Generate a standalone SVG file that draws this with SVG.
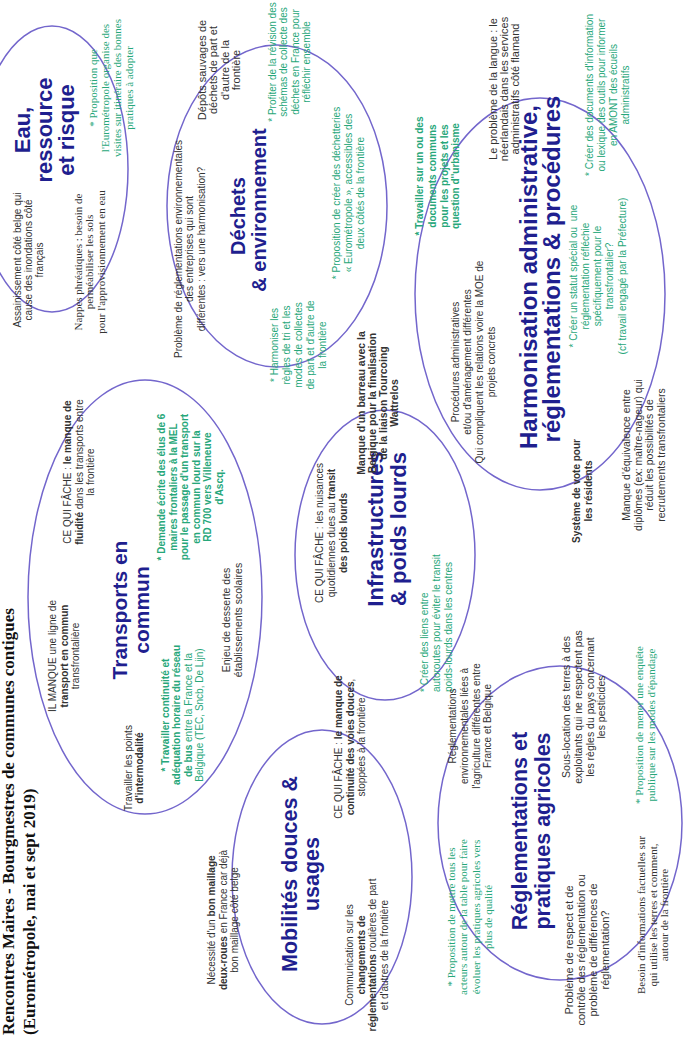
<svg xmlns="http://www.w3.org/2000/svg" width="685" height="1039" viewBox="0 0 685 1039">
<style>
.e{fill:none;stroke:#7366cc;stroke-width:1.5}
.t{font-family:"Liberation Sans",Arial,sans-serif;font-size:10px;fill:#333;text-anchor:middle}
.s{font-family:"Liberation Serif","Times New Roman",serif;font-size:11px;fill:#333;text-anchor:middle}
.g{fill:#27a77a}
.b{font-weight:bold}
.h{font-family:"Liberation Sans",Arial,sans-serif;font-weight:bold;fill:#1f1f8f;text-anchor:middle}
.ttl{font-family:"Liberation Serif","Times New Roman",serif;font-weight:bold;font-size:17px;fill:#111}
</style>
<rect width="685" height="1039" fill="#fff"/>
<g transform="translate(0,1039) rotate(-90)">
<g id="title">
<text class="ttl" x="4" y="14">Rencontres Maires - Bourgmestres de communes contigues</text>
<text class="ttl" x="4" y="35">(Eurométropole, mai et sept 2019)</text>
</g>
<g id="connectors"></g>
<g id="eau">
<ellipse class="e" cx="870" cy="52" rx="143" ry="76"/>
<text class="h" style="font-size:22px"><tspan x="909" y="29.5">Eau,</tspan><tspan x="909" y="51.5">ressource</tspan><tspan x="909" y="73.5">et risque</tspan></text>
<text class="t"><tspan x="779" y="20.5">Assainissement côté belge qui</tspan><tspan x="779" y="31.8">cause des inondations côté</tspan><tspan x="779" y="43">français</tspan></text>
<text class="s"><tspan x="777" y="81.5">Nappes phréatiques : besoin de</tspan><tspan x="777" y="93">perméabiliser les sols</tspan><tspan x="777" y="104.5">pour l'approvisionnement en eau</tspan></text>
<text class="s g"><tspan x="951" y="96.5">* Proposition que</tspan><tspan x="951" y="108.5">l'Eurométropole organise des</tspan><tspan x="951" y="121">visites sur itinéraire des bonnes</tspan><tspan x="951" y="133">pratiques à adopter</tspan></text>
</g>
<g id="dechets">
<ellipse class="e" cx="833" cy="277" rx="161" ry="110"/>
<text class="h" style="font-size:20px"><tspan x="823" y="245">Déchets</tspan><tspan x="829" y="266">&amp; environnement</tspan></text>
<text class="t" style="font-size:11px"><tspan x="969" y="205.5">Dépôts sauvages de</tspan><tspan x="969" y="217">déchets de part et</tspan><tspan x="969" y="228.5">d'autre de la</tspan><tspan x="969" y="240">frontière</tspan></text>
<text class="t"><tspan x="790" y="181.5">Problème de réglementations environnementales</tspan><tspan x="790" y="193">des entreprises qui sont</tspan><tspan x="790" y="204.5">différentes : vers une harmonisation?</tspan></text>
<text class="t g"><tspan x="977" y="275.5">* Profiter de la révision des</tspan><tspan x="977" y="287">schémas de collecte des</tspan><tspan x="977" y="298.5">déchets en France pour</tspan><tspan x="977" y="310">réfléchir ensemble</tspan></text>
<text class="t g"><tspan x="846" y="340">* Proposition de créer des déchetteries</tspan><tspan x="846" y="352">« Eurométropole », accessibles des</tspan><tspan x="846" y="363.5">deux côtés de la frontière</tspan></text>
<text class="t g"><tspan x="694" y="278">* Harmoniser les</tspan><tspan x="694" y="290">règles de tri et les</tspan><tspan x="694" y="302">modes de collectes</tspan><tspan x="694" y="314">de part et d'autre de</tspan><tspan x="694" y="326">la frontière</tspan></text>
</g>
<g id="harmonisation">
<ellipse class="e" cx="745" cy="540" rx="196" ry="125"/>
<text class="h" style="font-size:24px"><tspan x="762" y="537">Harmonisation administrative,</tspan><tspan x="770" y="560">réglementations &amp; procédures</tspan></text>
<text class="t g b"><tspan x="863" y="423">* Travailler sur un ou des</tspan><tspan x="863" y="435.5">documents communs</tspan><tspan x="863" y="447.5">pour les projets et les</tspan><tspan x="863" y="459">question d''urbanisme</tspan></text>
<text class="t"><tspan x="677" y="458.5">Procédures administratives</tspan><tspan x="677" y="470.5">et/ou d'aménagement différentes</tspan><tspan x="677" y="482.5">Qui compliquent les relations voire la MOE de</tspan><tspan x="677" y="494.5">projets concrets</tspan></text>
<text class="t" style="font-size:11px"><tspan x="950" y="497">Le problème de la langue : le</tspan><tspan x="950" y="508">néerlandais dans les services</tspan><tspan x="950" y="519">administratifs côté flamand</tspan></text>
<text class="t g"><tspan x="763" y="577">* Créer un statut spécial ou&#160; une</tspan><tspan x="763" y="589">réglementation réfléchie</tspan><tspan x="763" y="601">spécifiquement pour le</tspan><tspan x="763" y="613">transfrontalier?</tspan><tspan x="763" y="626">(cf travail engagé par la Préfecture)</tspan></text>
<text class="t g"><tspan x="944" y="593">* Créer des documents d'information</tspan><tspan x="944" y="605">ou lexique des outils pour informer</tspan><tspan x="944" y="617">en AMONT des écueils</tspan><tspan x="944" y="629">administratifs</tspan></text>
<text class="t b"><tspan x="548" y="580">Système de vote pour</tspan><tspan x="548" y="591.5">les résidents</tspan></text>
<text class="t" style="font-size:10.5px"><tspan x="584" y="630">Manque d'équivalence entre</tspan><tspan x="584" y="641.5">diplômes (ex: maître-nageur) qui</tspan><tspan x="584" y="653">réduit les possibilités de</tspan><tspan x="584" y="664.5">recrutements transfrontaliers</tspan></text>
</g>
<g id="transports">
<ellipse class="e" cx="442" cy="145" rx="217" ry="117"/>
<text class="h" style="font-size:21px"><tspan x="429" y="127">Transports en</tspan><tspan x="429" y="149">commun</tspan></text>
<text class="t"><tspan x="383" y="56">IL MANQUE une ligne de</tspan><tspan x="383" y="67.5" class="b">transport en commun</tspan><tspan x="383" y="79">transfrontalière</tspan></text>
<text class="t"><tspan x="567" y="71">CE QUI FÂCHE : <tspan class="b">le manque de</tspan></tspan><tspan x="567" y="82.5"><tspan class="b">fluidité</tspan> dans les transports entre</tspan><tspan x="567" y="94">la frontière</tspan></text>
<text class="t g b"><tspan x="552" y="165">* Demande écrite des élus de 6</tspan><tspan x="552" y="176.5">maires frontaliers à la MEL</tspan><tspan x="552" y="188">pour le passage d'un transport</tspan><tspan x="552" y="199.5">en commun lourd sur la</tspan><tspan x="552" y="211">RD 700 vers Villeneuve</tspan><tspan x="552" y="222.5">d'Ascq.</tspan></text>
<text class="t" style="font-size:10.5px"><tspan x="419" y="230">Enjeu de desserte des</tspan><tspan x="419" y="241.5">établissements scolaires</tspan></text>
<text class="t"><tspan x="271" y="131.5">Travailler les points</tspan><tspan x="271" y="143" class="b">d'intermodalité</tspan></text>
<text class="t g"><tspan x="324" y="168.5" class="b">* Travailler continuité et</tspan><tspan x="324" y="180" class="b">adéquation horaire du réseau</tspan><tspan x="324" y="191.5"><tspan class="b">de bus</tspan> entre la France et la</tspan><tspan x="324" y="203">Belgique (TEC, Sncb, De Lijn)</tspan></text>
</g>
<g id="infrastructures">
<ellipse class="e" cx="484" cy="385" rx="145" ry="90"/>
<text class="h" style="font-size:22px"><tspan x="510" y="383">Infrastructures</tspan><tspan x="510" y="406">&amp; poids lourds</tspan></text>
<text class="t"><tspan x="506" y="323">CE QUI FÂCHE : les nuisances</tspan><tspan x="506" y="335">quotidiennes dues au <tspan class="b">transit</tspan></tspan><tspan x="506" y="346.5" class="b">des poids lourds</tspan></text>
<text class="t b" style="font-size:10.5px"><tspan x="636" y="365">Manque d'un barreau avec la</tspan><tspan x="636" y="376">Belgique pour la finalisation</tspan><tspan x="636" y="387">de la liaison Tourcoing</tspan><tspan x="636" y="398">Wattrelos</tspan></text>
<text class="t g" style="text-anchor:start"><tspan x="347" y="428">* Créer des liens entre</tspan><tspan x="347" y="440">autoroutes pour éviter le transit</tspan><tspan x="347" y="451.5">poids-lourds dans les centres</tspan></text>
</g>
<g id="mobilites">
<ellipse class="e" cx="162" cy="322" rx="147" ry="90"/>
<text class="h" style="font-size:21.5px"><tspan x="165" y="297">Mobilités douces &amp;</tspan><tspan x="165" y="319">usages</tspan></text>
<text class="t"><tspan x="119" y="215">Nécessité d'un <tspan class="b">bon maillage</tspan></tspan><tspan x="119" y="226.5"><tspan class="b">deux-roues</tspan> en France car déjà</tspan><tspan x="119" y="238">bon maillage côté belge</tspan></text>
<text class="t"><tspan x="292" y="342">CE QUI FÂCHE : <tspan class="b">le manque de</tspan></tspan><tspan x="292" y="353.5" class="b">continuité des voies douces<tspan style="font-weight:normal">,</tspan></tspan><tspan x="292" y="365">stoppées à la frontière</tspan></text>
<text class="t"><tspan x="84" y="353">Communication sur les</tspan><tspan x="84" y="364.5" class="b">changements de</tspan><tspan x="84" y="376"><tspan class="b">réglementations</tspan> routières de part</tspan><tspan x="84" y="387.5">et d'autres de la frontière</tspan></text>
</g>
<g id="agricoles">
<ellipse class="e" cx="216" cy="560" rx="157" ry="122"/>
<text class="h" style="font-size:21.5px"><tspan x="208" y="527">Réglementations et</tspan><tspan x="208" y="550">pratiques agricoles</tspan></text>
<text class="s g"><tspan x="122" y="454.5">* Proposition de mettre tous les</tspan><tspan x="122" y="467">acteurs autour de la table pour faire</tspan><tspan x="122" y="479.5">évoluer les pratiques agricoles vers</tspan><tspan x="122" y="492">plus de qualité</tspan></text>
<text class="t" style="font-size:11px"><tspan x="89" y="573">Problème de respect et de</tspan><tspan x="89" y="585">contrôle des réglementation ou</tspan><tspan x="89" y="597">problème de différences de</tspan><tspan x="89" y="608.5">réglementation?</tspan></text>
<text class="s"><tspan x="124" y="645">Besoin d'informations factuelles sur</tspan><tspan x="124" y="657">qui utilise les terres et comment,</tspan><tspan x="124" y="668">autour de la frontière</tspan></text>
<text class="t"><tspan x="313" y="456">Réglementations</tspan><tspan x="313" y="468">environnementales liées à</tspan><tspan x="313" y="479.5">l'agriculture différentes entre</tspan><tspan x="313" y="491">France et Belgique</tspan></text>
<text class="t" style="font-size:10.5px"><tspan x="332" y="570">Sous-location des terres à des</tspan><tspan x="332" y="582">exploitants qui ne respectent pas</tspan><tspan x="332" y="594">les règles du pays concernant</tspan><tspan x="332" y="605">les pesticides</tspan></text>
<text class="s g"><tspan x="314" y="643">* Proposition de mener une enquête</tspan><tspan x="314" y="655">publique sur les modes d'épandage</tspan></text>
</g>
</g>
</svg>
